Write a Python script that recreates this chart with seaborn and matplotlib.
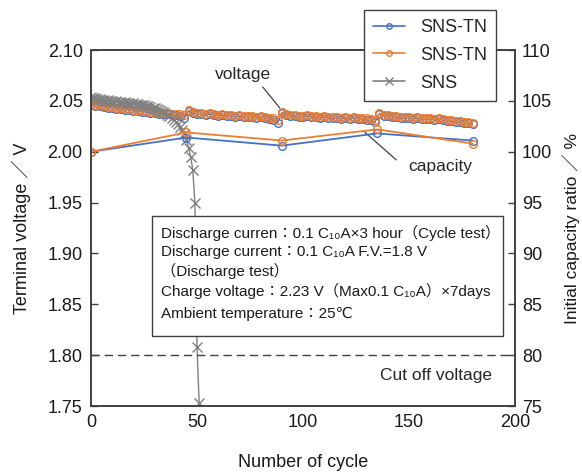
# Cycle life test - terminal voltage and capacity ratio vs number of cycles

import matplotlib
matplotlib.use("Agg")
import matplotlib.pyplot as plt
from matplotlib.lines import Line2D
from matplotlib.patches import Rectangle
import seaborn as sns

sns.set_style("white")
plt.rcParams['font.family'] = ['Liberation Sans', 'DejaVu Sans', 'Noto Sans CJK JP']

BLUE = '#4472C4'
ORANGE = '#ED7D31'
GRAY = '#808080'
DARK = '#404040'

# voltage data, every 2 cycles
v_cycles = list(range(0, 181, 2))
v_tn1 = [2.046, 2.045, 2.045, 2.044, 2.043, 2.043, 2.042, 2.042, 2.041, 2.041, 2.040, 2.040,
         2.039, 2.039, 2.038, 2.038, 2.037, 2.037, 2.037, 2.036, 2.036, 2.035, 2.033,
         2.040, 2.038, 2.037, 2.037, 2.036, 2.037, 2.036, 2.035, 2.036, 2.035, 2.035, 2.034,
         2.035, 2.034, 2.034, 2.034, 2.033, 2.034, 2.033, 2.032, 2.031, 2.028,
         2.038, 2.036, 2.035, 2.035, 2.034, 2.034, 2.035, 2.034, 2.034, 2.033, 2.034, 2.033,
         2.033, 2.033, 2.032, 2.033, 2.032, 2.033, 2.032, 2.032, 2.031, 2.031, 2.029,
         2.037, 2.035, 2.035, 2.034, 2.034, 2.033, 2.033, 2.033, 2.032, 2.033, 2.032, 2.032,
         2.032, 2.031, 2.032, 2.031, 2.030, 2.030, 2.029, 2.029, 2.028, 2.028, 2.027]
v_tn2 = [2.047, 2.046, 2.046, 2.045, 2.044, 2.044, 2.043, 2.043, 2.042, 2.042, 2.041, 2.041,
         2.040, 2.040, 2.039, 2.039, 2.038, 2.038, 2.038, 2.037, 2.037, 2.037, 2.036,
         2.041, 2.039, 2.038, 2.038, 2.037, 2.038, 2.037, 2.036, 2.037, 2.036, 2.036, 2.035,
         2.036, 2.035, 2.035, 2.035, 2.034, 2.035, 2.034, 2.033, 2.033, 2.031,
         2.039, 2.037, 2.036, 2.036, 2.035, 2.035, 2.036, 2.035, 2.035, 2.034, 2.035, 2.034,
         2.034, 2.034, 2.033, 2.034, 2.033, 2.034, 2.033, 2.033, 2.033, 2.032, 2.031,
         2.038, 2.036, 2.036, 2.035, 2.035, 2.034, 2.034, 2.034, 2.033, 2.034, 2.033, 2.033,
         2.033, 2.032, 2.033, 2.032, 2.031, 2.031, 2.030, 2.030, 2.029, 2.029, 2.028]

# SNS voltage, every cycle until cut off
s_cycles = list(range(0, 52))
v_sns = [2.054, 2.053, 2.053, 2.052, 2.052, 2.051, 2.051, 2.050, 2.051, 2.050, 2.050, 2.049,
         2.050, 2.049, 2.049, 2.048, 2.049, 2.048, 2.048, 2.047, 2.048, 2.047, 2.047, 2.046,
         2.046, 2.046, 2.045, 2.045, 2.044, 2.043, 2.043, 2.042, 2.041, 2.040, 2.039, 2.038,
         2.036, 2.035, 2.033, 2.031, 2.029, 2.027, 2.024, 2.021, 2.017, 2.012, 2.004, 1.995,
         1.982, 1.950, 1.808, 1.753]

# capacity ratio (%)
c_cycles = [0, 45, 90, 135, 180]
c_tn1 = [100.0, 101.4, 100.6, 101.8, 101.1]
c_tn2 = [100.0, 101.9, 101.1, 102.2, 100.8]

fig = plt.figure(figsize=(5.82, 4.72), dpi=100)
ax = fig.add_axes([0.1564, 0.1398, 0.7285, 0.7542])
ax2 = ax.twinx()

mk = dict(marker='o', markersize=5.5, markerfacecolor='none', markeredgewidth=1.0)
sns.lineplot(x=v_cycles, y=v_tn1, ax=ax, color=BLUE, lw=0.8, markeredgecolor=BLUE, legend=False, **mk)
sns.lineplot(x=v_cycles, y=v_tn2, ax=ax, color=ORANGE, lw=0.8, markeredgecolor=ORANGE, legend=False, **mk)
sns.lineplot(x=s_cycles, y=v_sns, ax=ax, color=GRAY, lw=1.0, marker='x', markersize=7,
             markeredgewidth=1.0, markeredgecolor=GRAY, legend=False)

sns.lineplot(x=c_cycles, y=c_tn1, ax=ax2, color=BLUE, lw=1.3, markeredgecolor=BLUE, legend=False, **mk)
sns.lineplot(x=c_cycles, y=c_tn2, ax=ax2, color=ORANGE, lw=1.3, markeredgecolor=ORANGE, legend=False, **mk)

ax.axhline(1.80, color=DARK, lw=1.0, ls=(0, (6, 3.5)))

ax.set_xlim(0, 200)
ax.set_ylim(1.75, 2.10)
ax2.set_ylim(75, 110)
ax.set_xticks([0, 50, 100, 150, 200])
ax.set_yticks([1.75, 1.80, 1.85, 1.90, 1.95, 2.00, 2.05, 2.10])
ax.set_yticklabels([f'{v:.2f}' for v in ax.get_yticks()])
ax2.set_yticks([75, 80, 85, 90, 95, 100, 105, 110])

for a in (ax, ax2):
    for s in a.spines.values():
        s.set_color(DARK)
        s.set_linewidth(1.2)
    a.tick_params(direction='in', length=5, width=1, color=DARK, labelsize=13, labelcolor='#1a1a1a')
ax.tick_params(axis='y', pad=6)
ax.tick_params(axis='x', pad=6)
ax2.tick_params(axis='y', pad=5)

ax.set_xlabel('Number of cycle', fontsize=13, labelpad=16, color='#1a1a1a')
ax.set_ylabel('Terminal voltage ／ V', fontsize=13, labelpad=12, color='#1a1a1a')
ax2.set_ylabel('Initial capacity ratio ／ %', fontsize=12.5, labelpad=7, color='#1a1a1a')

# annotations
ax.text(71.7, 2.0755, 'voltage', fontsize=12.5, ha='center', va='center')
ax.plot([81, 89], [2.0637, 2.0431], color=DARK, lw=0.9)
ax.text(164.5, 1.985, 'capacity', fontsize=12.5, ha='center', va='center')
ax.plot([129, 144], [2.0195, 1.992], color=DARK, lw=0.9)
ax.text(189, 1.780, 'Cut off voltage', fontsize=12.5, ha='right', va='center')

# test condition box
box = Rectangle((28.8, 1.8193), 165.5, 0.1177, transform=ax.transData,
                facecolor='white', edgecolor=DARK, lw=1.0, zorder=10)
ax2.add_patch(box)
lines = ['Discharge curren：0.1 C₁₀A×3 hour（Cycle test）',
         'Discharge current：0.1 C₁₀A F.V.=1.8 V',
         '（Discharge test）',
         'Charge voltage：2.23 V（Max0.1 C₁₀A）×7days',
         'Ambient temperature：25℃']
ys = [1.9204, 1.9018, 1.8831, 1.8635, 1.8410]
for txt, y in zip(lines, ys):
    ax2.text(33.0, y, txt, fontsize=11, ha='left', va='center', transform=ax.transData,
             zorder=11, color='#1a1a1a')

handles = [Line2D([], [], color=BLUE, lw=1.2, marker='o', ms=4, mfc='none', mec=BLUE),
           Line2D([], [], color=ORANGE, lw=1.2, marker='o', ms=4, mfc='none', mec=ORANGE),
           Line2D([], [], color=GRAY, lw=1.2, marker='x', ms=6, mec=GRAY)]
leg = fig.legend(handles, ['SNS-TN', 'SNS-TN', 'SNS'], loc='upper right',
                 bbox_to_anchor=(0.852, 0.979), fontsize=13, fancybox=False, framealpha=1,
                 edgecolor=DARK, handlelength=1.8, labelspacing=0.6, borderpad=0.5,
                 borderaxespad=0)
leg.get_frame().set_linewidth(1.0)

plt.savefig("out.png", dpi=100)
